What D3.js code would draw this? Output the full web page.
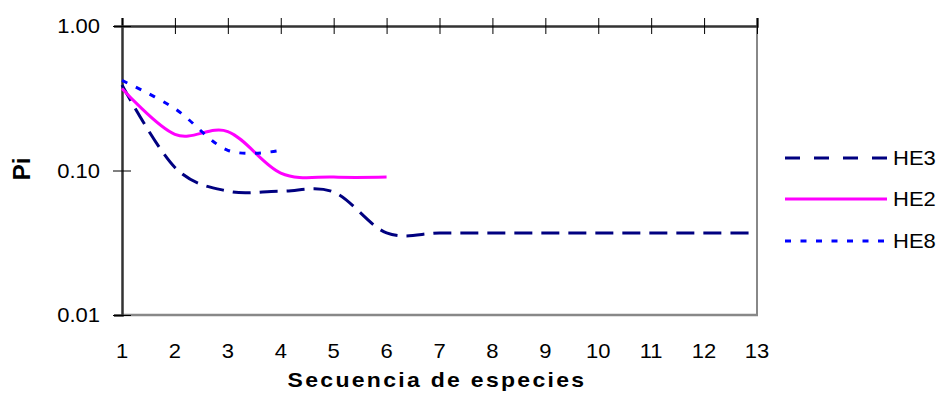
<!DOCTYPE html>
<html>
<head>
<meta charset="utf-8">
<script src="https://cdn.jsdelivr.net/npm/d3@7"></script>
<style>
  body { margin: 0; background: #fff; }
  svg { display: block; font-family: "Liberation Sans", Arial, sans-serif; }
</style>
</head>
<body>
<svg id="chart" width="942" height="403"></svg>
<script>
// species sequence (rank) and Pi values
const categories = [1, 2, 3, 4, 5, 6, 7, 8, 9, 10, 11, 12, 13]
const he3 = [0.39, 0.105, 0.072, 0.072, 0.071, 0.037, 0.037, 0.037, 0.037, 0.037, 0.037, 0.037, 0.037]
const he2 = [0.37, 0.178, 0.186, 0.096, 0.09, 0.09]
const he8 = [0.42, 0.268, 0.138, 0.138]
const yTicks = [1, 0.1, 0.01]
const yTickLabels = ["1.00", "0.10", "0.01"]

const series = [
  { name: "HE3", values: he3, color: "#000080", dash: "18,9", legendDash: "15,14", width: 3 },
  { name: "HE2", values: he2, color: "#ff00ff", dash: null, legendDash: null, width: 3 },
  { name: "HE8", values: he8, color: "#0000ff", dash: "6,9.5", legendDash: "6,9.5", width: 3 }
]

const plot = { left: 122, right: 757, top: 26, bottom: 315 }
const stretch = 1.1   // the picture's text is a bit wide

const svg = d3.select("#chart")

const x = d3.scaleLinear()
  .domain([1, 13])
  .range([plot.left, plot.right])

const y = d3.scaleLog()
  .domain([0.01, 1])
  .range([plot.bottom, plot.top])

// plot area frame: grey right and bottom edges
svg.append("line")
  .attr("x1", plot.right).attr("x2", plot.right)
  .attr("y1", plot.top).attr("y2", plot.bottom)
  .attr("stroke", "#888").attr("stroke-width", 2)
svg.append("line")
  .attr("x1", plot.left).attr("x2", plot.right + 1)
  .attr("y1", plot.bottom).attr("y2", plot.bottom)
  .attr("stroke", "#888").attr("stroke-width", 2.5)

// category axis sits along the top, ticks crossing the line
const xAxis = d3.axisTop(x)
  .tickValues(categories)
  .tickSize(8)
  .tickFormat("")
const xg = svg.append("g")
  .attr("transform", `translate(0, ${plot.top})`)
  .call(xAxis)
xg.select(".domain").attr("stroke", "#333").attr("stroke-width", 2.5)
xg.selectAll(".tick line").attr("y2", -8).attr("y1", 8).attr("stroke", "#000")

// value axis on the left
const yAxis = d3.axisLeft(y)
  .tickValues(yTicks)
  .tickSize(8)
  .tickFormat("")
const yg = svg.append("g")
  .attr("transform", `translate(${plot.left}, 0)`)
  .call(yAxis)
yg.select(".domain").attr("stroke", "#333").attr("stroke-width", 2.5)
yg.selectAll(".tick line").attr("x1", 9).attr("x2", -9).attr("stroke", "#000")

// tick labels, drawn separately so they can sit below the plot
svg.selectAll(".xlabel")
  .data(categories)
  .enter().append("text")
  .attr("class", "xlabel")
  .attr("transform", d => `translate(${x(d)}, 358) scale(${stretch},1)`)
  .attr("text-anchor", "middle")
  .attr("font-size", 20)
  .attr("fill", "#000")
  .text(d => d)

svg.selectAll(".ylabel")
  .data(yTicks)
  .enter().append("text")
  .attr("class", "ylabel")
  .attr("transform", d => `translate(100, ${y(d) + 7}) scale(${stretch},1)`)
  .attr("text-anchor", "end")
  .attr("font-size", 20)
  .attr("fill", "#000")
  .text((d, i) => yTickLabels[i])

// axis titles
svg.append("text")
  .attr("transform", "translate(437, 387) scale(1.15,1)")
  .attr("text-anchor", "middle")
  .attr("font-size", 20)
  .attr("font-weight", "bold")
  .attr("letter-spacing", 2)
  .text("Secuencia de especies")

svg.append("text")
  .attr("transform", "translate(30, 169) rotate(-90)")
  .attr("text-anchor", "middle")
  .attr("font-size", 24)
  .attr("font-weight", "bold")
  .text("Pi")

// smoothed lines like the spreadsheet's
const line = d3.line()
  .x((d, i) => x(categories[i]))
  .y(d => y(d))
  .curve(d3.curveCardinal.tension(0))

svg.selectAll(".series")
  .data(series)
  .enter().append("path")
  .attr("class", "series")
  .attr("fill", "none")
  .attr("stroke", d => d.color)
  .attr("stroke-width", d => d.width)
  .attr("stroke-dasharray", d => d.dash)
  .attr("d", d => line(d.values))

// legend
const legendRows = [158, 199, 241]
const legend = svg.selectAll(".legend")
  .data(series)
  .enter().append("g")
  .attr("class", "legend")
  .attr("transform", (d, i) => `translate(785, ${legendRows[i]})`)

legend.append("line")
  .attr("x1", 0).attr("x2", 102)
  .attr("stroke", d => d.color)
  .attr("stroke-width", 3)
  .attr("stroke-dasharray", d => d.legendDash)

legend.append("text")
  .attr("transform", `translate(108, 7) scale(${stretch},1)`)
  .attr("font-size", 20)
  .attr("fill", "#000")
  .text(d => d.name)
</script>
</body>
</html>
